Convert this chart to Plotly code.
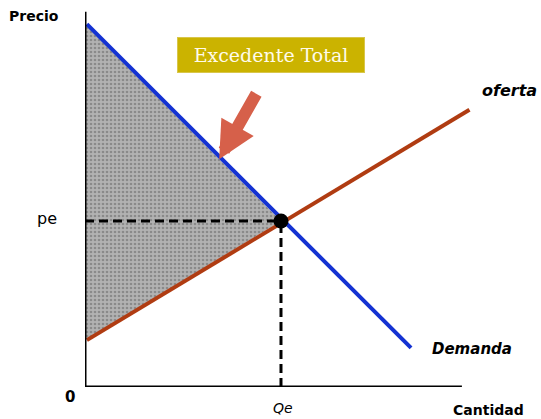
import plotly.graph_objects as go

# Data (arbitrary units: quantity 0-100, price 0-100)
demand_q = [0.5, 86.5]
demand_p = [97.5, 10.5]
supply_q = [0.5, 102.0]
supply_p = [12.6, 74.5]
eq_q = 52.0
eq_p = 44.6
surplus_q = [0.0, eq_q, 0.0]
surplus_p = [97.5, eq_p, 12.6]

X_RANGE = [0, 104.8]
Y_RANGE = [0, 101.3]
SANS = "DejaVu Sans"


def px(x):
    return (x - X_RANGE[0]) / (X_RANGE[1] - X_RANGE[0])


def py(y):
    return (y - Y_RANGE[0]) / (Y_RANGE[1] - Y_RANGE[0])


fig = go.Figure()

# total surplus triangle (grainy gray)
fig.add_trace(go.Scatter(
    x=surplus_q, y=surplus_p, fill="toself", mode="none",
    fillcolor="#a5a5a5",
    fillpattern=dict(shape=".", bgcolor="#b2b2b2", fgcolor="#626262",
                     size=4, solidity=0.35),
    hoverinfo="skip", showlegend=False))

# dashed guides
fig.add_trace(go.Scatter(x=[0, eq_q], y=[eq_p, eq_p], mode="lines",
                         line=dict(color="black", width=3, dash="9px,5px"),
                         showlegend=False, hoverinfo="skip"))
fig.add_trace(go.Scatter(x=[eq_q, eq_q], y=[0, eq_p], mode="lines",
                         line=dict(color="black", width=3, dash="9px,5px"),
                         showlegend=False, hoverinfo="skip"))

# curves
fig.add_trace(go.Scatter(x=supply_q, y=supply_p, mode="lines",
                         line=dict(color="#b03c12", width=4), showlegend=False))
fig.add_trace(go.Scatter(x=demand_q, y=demand_p, mode="lines",
                         line=dict(color="#1432d2", width=4), showlegend=False))
fig.add_trace(go.Scatter(x=[eq_q], y=[eq_p], mode="markers",
                         marker=dict(color="black", size=15), showlegend=False,
                         cliponaxis=False))

# axes lines
fig.add_shape(type="line", x0=0, x1=0, y0=0, y1=100.8,
              line=dict(color="black", width=3))
fig.add_shape(type="line", x0=-0.4, x1=100, y0=0, y1=0,
              line=dict(color="black", width=3))

ann = [
    (-13.6, 99.7, "<b>Precio</b>", 14),
    (-10.0, eq_p + 0.8, "pe", 16),
    (-4.0, -2.6, "<b>0</b>", 15),
    (eq_q + 0.5, -5.6, "<i>Qe</i>", 14),
    (107.0, -6.2, "<b>Cantidad</b>", 14),
    (112.6, 79.8, "<b><i>oferta</i></b>", 16),
    (102.6, 10.2, "<b><i>Demanda</i></b>", 15),
]
for x, y, t, s in ann:
    fig.add_annotation(x=px(x), y=py(y), xref="paper", yref="paper", text=t,
                       showarrow=False, xanchor="center", yanchor="middle",
                       font=dict(family=SANS, size=s, color="black"))

# title box
fig.add_annotation(x=px(49.3), y=py(89.2), xref="paper", yref="paper",
                   text="Excedente Total", showarrow=False,
                   font=dict(family="DejaVu Serif", size=19, color="#fffbea"),
                   bgcolor="#cbb300", bordercolor="#d8c64a", borderwidth=1,
                   width=184, height=32, xanchor="center", yanchor="middle")

# arrow
fig.add_annotation(x=35.6, y=61.2, ax=38, ay=-67, axref="pixel", ayref="pixel",
                   text="", showarrow=True, arrowhead=2, arrowsize=0.62,
                   arrowwidth=12, arrowcolor="#d6604a", standoff=0)

fig.update_xaxes(range=X_RANGE, visible=False, fixedrange=True)
fig.update_yaxes(range=Y_RANGE, visible=False, fixedrange=True)
fig.update_layout(width=541, height=419,
                  margin=dict(l=85, r=61, t=10, b=32),
                  plot_bgcolor="white", paper_bgcolor="white")

fig.write_html("out.html", config={"displayModeBar": False},
               post_script="document.body.style.margin='0';document.body.style.overflow='hidden';")
